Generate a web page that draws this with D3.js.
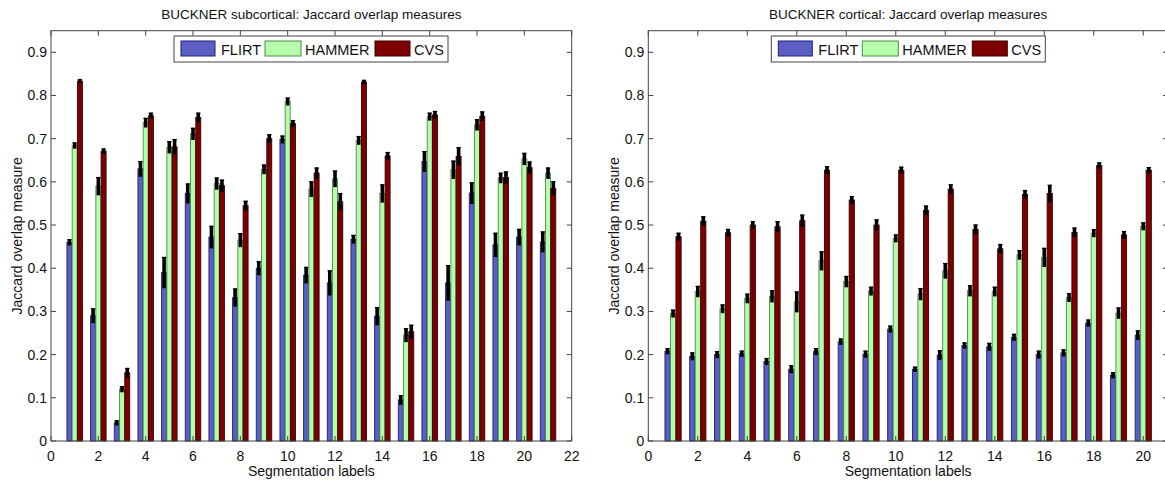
<!DOCTYPE html>
<html><head><meta charset="utf-8">
<script src="https://cdn.jsdelivr.net/npm/d3@7"></script>
<style>
html,body{margin:0;padding:0;background:#fff;overflow:hidden}
svg{display:block;font-family:"Liberation Sans",Arial,Helvetica,sans-serif}
</style></head><body>
<svg id="c" width="1165" height="483"></svg>
<script>
const seriesNames = ["FLIRT","HAMMER","CVS"];
const yTicks = [0,0.1,0.2,0.3,0.4,0.5,0.6,0.7,0.8,0.9];
const subLabels = d3.range(1,22);
const subXTicks = [0,2,4,6,8,10,12,14,16,18,20,22];
const subFLIRT  = [0.46,0.29,0.042,0.63,0.39,0.573,0.472,0.332,0.40,0.698,0.384,0.366,0.467,0.289,0.095,0.647,0.366,0.574,0.454,0.472,0.461];
const subFLIRTe = [0.006,0.016,0.005,0.017,0.035,0.022,0.025,0.02,0.015,0.008,0.018,0.028,0.009,0.02,0.01,0.023,0.04,0.024,0.027,0.018,0.023];
const subHAMMER = [0.684,0.59,0.12,0.737,0.68,0.711,0.596,0.465,0.629,0.786,0.583,0.607,0.696,0.573,0.245,0.751,0.628,0.732,0.609,0.653,0.62];
const subHAMMERe= [0.006,0.02,0.006,0.01,0.013,0.013,0.013,0.015,0.01,0.008,0.017,0.018,0.009,0.02,0.015,0.008,0.02,0.012,0.011,0.013,0.012];
const subCVS    = [0.833,0.671,0.158,0.753,0.681,0.749,0.591,0.545,0.70,0.735,0.62,0.554,0.831,0.66,0.253,0.755,0.659,0.752,0.61,0.633,0.585];
const subCVSe   = [0.004,0.005,0.01,0.006,0.017,0.01,0.013,0.01,0.009,0.007,0.012,0.019,0.004,0.008,0.015,0.008,0.02,0.01,0.013,0.013,0.015];

const corLabels = d3.range(1,21);
const corXTicks = [0,2,4,6,8,10,12,14,16,18,20];
const corFLIRT  = [0.208,0.196,0.20,0.202,0.184,0.166,0.207,0.23,0.201,0.259,0.166,0.199,0.221,0.218,0.24,0.20,0.204,0.273,0.152,0.245];
const corFLIRTe = [0.006,0.008,0.007,0.006,0.007,0.008,0.007,0.006,0.007,0.007,0.005,0.01,0.006,0.008,0.007,0.008,0.007,0.007,0.006,0.01];
const corHAMMER = [0.295,0.346,0.306,0.33,0.335,0.322,0.417,0.369,0.347,0.469,0.34,0.394,0.348,0.346,0.431,0.425,0.332,0.481,0.296,0.497];
const corHAMMERe= [0.008,0.012,0.009,0.01,0.013,0.023,0.021,0.012,0.009,0.008,0.013,0.017,0.012,0.01,0.01,0.021,0.009,0.008,0.012,0.008];
const corCVS    = [0.473,0.509,0.482,0.50,0.496,0.51,0.627,0.558,0.50,0.627,0.534,0.583,0.49,0.445,0.571,0.573,0.483,0.638,0.477,0.627];
const corCVSe   = [0.008,0.01,0.008,0.008,0.012,0.013,0.008,0.008,0.012,0.007,0.01,0.01,0.01,0.01,0.009,0.019,0.01,0.006,0.008,0.006];

const fills   = ["#5b5fc2","#b5fcab","#7c0000"];
const strokes = ["#1e1e78","#4d8c4d","#3a0000"];

const svg = d3.select("#c");

function panel(opts){
  const {x0,x1,xmax,title,labels,xTicks,vals,errs} = opts;
  const yTop = 30.7, yBot = 441;
  const x = d3.scaleLinear().domain([0,xmax]).range([x0,x1]);
  const y = d3.scaleLinear().domain([0,0.95]).range([yBot,yTop]);
  const g = svg.append("g");
  // bars
  const offs = [-0.222,0,0.222], bw = 0.21;
  vals.forEach((arr,si)=>{
    const gs = g.append("g");
    gs.selectAll("rect").data(arr).join("rect")
      .attr("x",(d,i)=>x(labels[i]+offs[si]-bw/2))
      .attr("width",x(bw)-x(0))
      .attr("y",d=>y(d))
      .attr("height",d=>y(0)-y(d))
      .attr("fill",fills[si]).attr("stroke",strokes[si]).attr("stroke-width",0.9);
  });
  // error bars
  vals.forEach((arr,si)=>{
    const ge = g.append("g");
    arr.forEach((d,i)=>{
      const cx = x(labels[i]+offs[si]);
      const e = errs[si][i];
      ge.append("rect").attr("x",cx-1.8).attr("width",3.6)
        .attr("y",y(d+e)-0.5).attr("height",Math.max(1.5,y(d-e)-y(d+e)+1))
        .attr("fill","#000");
      ge.append("line").attr("x1",cx-2.2).attr("x2",cx+2.2)
        .attr("y1",y(d+e)).attr("y2",y(d+e)).attr("stroke","#000").attr("stroke-width",1.2);
    });
  });
  // box
  g.append("rect").attr("x",x0).attr("y",yTop).attr("width",x1-x0).attr("height",yBot-yTop)
    .attr("fill","none").attr("stroke","#444").attr("stroke-width",1);
  const tl = 5;
  // x ticks (bottom & top, inward)
  xTicks.forEach(t=>{
    g.append("line").attr("x1",x(t)).attr("x2",x(t)).attr("y1",yBot).attr("y2",yBot-tl).attr("stroke","#444");
    g.append("line").attr("x1",x(t)).attr("x2",x(t)).attr("y1",yTop).attr("y2",yTop+tl).attr("stroke","#444");
    g.append("text").attr("x",x(t)).attr("y",yBot+20).attr("text-anchor","middle")
      .attr("font-size",14).attr("fill","#111").text(t);
  });
  yTicks.forEach(t=>{
    g.append("line").attr("x1",x0).attr("x2",x0+tl).attr("y1",y(t)).attr("y2",y(t)).attr("stroke","#444");
    g.append("line").attr("x1",x1).attr("x2",x1-tl).attr("y1",y(t)).attr("y2",y(t)).attr("stroke","#444");
    g.append("text").attr("x",x0-4).attr("y",y(t)+5).attr("text-anchor","end")
      .attr("font-size",14).attr("fill","#111").text(t===0?"0":d3.format(".1f")(t));
  });
  // title and labels
  g.append("text").attr("x",(x0+x1)/2).attr("y",19).attr("text-anchor","middle")
    .attr("font-size",13.5).attr("fill","#111").text(title);
  g.append("text").attr("x",(x0+x1)/2).attr("y",476).attr("text-anchor","middle")
    .attr("font-size",14).attr("fill","#111").text("Segmentation labels");
  g.append("text").attr("transform",`translate(${x0-29},${(yTop+yBot)/2}) rotate(-90)`)
    .attr("text-anchor","middle").attr("font-size",14).attr("fill","#111").text("Jaccard overlap measure");
  // legend
  const lx = x0+123, ly = 36;
  const lg = g.append("g");
  lg.append("rect").attr("x",lx).attr("y",ly).attr("width",274).attr("height",26)
    .attr("fill","#fff").attr("stroke","#444").attr("stroke-width",1);
  const items = [{sx:7,sw:34,tx:47},{sx:91,sw:36,tx:131},{sx:201,sw:35,tx:240}];
  items.forEach((it,i)=>{
    lg.append("rect").attr("x",lx+it.sx).attr("y",ly+5).attr("width",it.sw).attr("height",15)
      .attr("fill",fills[i]).attr("stroke",strokes[i]).attr("stroke-width",1);
    lg.append("text").attr("x",lx+it.tx).attr("y",ly+18.5).attr("font-size",14.5).attr("fill","#111").text(seriesNames[i]);
  });
}

panel({x0:51,x1:571.7,xmax:22,title:"BUCKNER subcortical: Jaccard overlap measures",
  labels:subLabels,xTicks:subXTicks,vals:[subFLIRT,subHAMMER,subCVS],errs:[subFLIRTe,subHAMMERe,subCVSe]});
panel({x0:648.3,x1:1168,xmax:21,title:"BUCKNER cortical: Jaccard overlap measures",
  labels:corLabels,xTicks:corXTicks,vals:[corFLIRT,corHAMMER,corCVS],errs:[corFLIRTe,corHAMMERe,corCVSe]});
</script>
</body></html>
